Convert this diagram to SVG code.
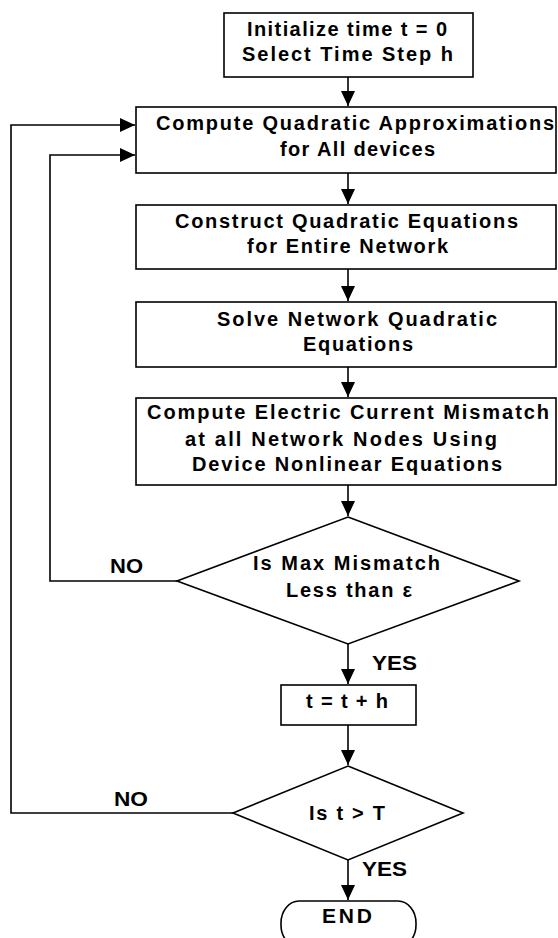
<svg xmlns="http://www.w3.org/2000/svg" width="558" height="938" viewBox="0 0 558 938">
  <style>
    .box { fill: #fff; stroke: #000; stroke-width: 1.6; }
    .lbl { font-family: "Liberation Sans", Arial, sans-serif; font-weight: bold; font-size: 20px; fill: #000; text-anchor: middle; }
    .wire { fill: none; stroke: #000; stroke-width: 1.6; }
  </style>
  <defs>
    <marker id="arrow" markerUnits="userSpaceOnUse" markerWidth="16" markerHeight="14" refX="15" refY="7" orient="auto">
      <path d="M0,0 L15,7 L0,14 z" fill="#000"/>
    </marker>
  </defs>
  <rect width="558" height="938" fill="#fff"/>

  <!-- connectors -->
  <g id="connectors">
    <path class="wire" d="M348,77 V106" marker-end="url(#arrow)"/>
    <path class="wire" d="M348,173 V204" marker-end="url(#arrow)"/>
    <path class="wire" d="M348,269 V301" marker-end="url(#arrow)"/>
    <path class="wire" d="M348,367 V397" marker-end="url(#arrow)"/>
    <path class="wire" d="M348,485 V516" marker-end="url(#arrow)"/>
    <path class="wire" d="M348,644 V684" marker-end="url(#arrow)"/>
    <path class="wire" d="M348,725 V765" marker-end="url(#arrow)"/>
    <path class="wire" d="M348,860 V900" marker-end="url(#arrow)"/>
    <!-- mismatch loop back -->
    <path class="wire" d="M177,581 H50 V155 H135" marker-end="url(#arrow)"/>
    <!-- time loop back -->
    <path class="wire" d="M233,813 H11 V125 H135" marker-end="url(#arrow)"/>
    <text class="lbl" x="126.5" y="573" textLength="33" lengthAdjust="spacingAndGlyphs">NO</text>
    <text class="lbl" x="394.5" y="670" textLength="45" lengthAdjust="spacingAndGlyphs">YES</text>
    <text class="lbl" x="131" y="806" textLength="34" lengthAdjust="spacingAndGlyphs">NO</text>
    <text class="lbl" x="384.5" y="876" textLength="45" lengthAdjust="spacingAndGlyphs">YES</text>
  </g>

  <g id="init">
    <rect class="box" x="224" y="13" width="249" height="64"/>
    <text class="lbl" x="347" y="36" textLength="200" lengthAdjust="spacing">Initialize time t = 0</text>
    <text class="lbl" x="347.5" y="61" textLength="211" lengthAdjust="spacing">Select Time Step h</text>
  </g>

  <g id="approx">
    <rect class="box" x="136" y="107" width="420" height="66"/>
    <text class="lbl" x="355" y="130" textLength="398" lengthAdjust="spacing">Compute Quadratic Approximations</text>
    <text class="lbl" x="357.5" y="156" textLength="155" lengthAdjust="spacing">for All devices</text>
  </g>

  <g id="construct">
    <rect class="box" x="136" y="205" width="420" height="64"/>
    <text class="lbl" x="346.5" y="228" textLength="343" lengthAdjust="spacing">Construct Quadratic Equations</text>
    <text class="lbl" x="347.5" y="253" textLength="201" lengthAdjust="spacing">for Entire Network</text>
  </g>

  <g id="solve">
    <rect class="box" x="136" y="302" width="420" height="65"/>
    <text class="lbl" x="357" y="326" textLength="280" lengthAdjust="spacing">Solve Network Quadratic</text>
    <text class="lbl" x="358" y="351" textLength="110" lengthAdjust="spacing">Equations</text>
  </g>

  <g id="mismatch">
    <rect class="box" x="136" y="398" width="420" height="87"/>
    <text class="lbl" x="348" y="419" textLength="402" lengthAdjust="spacing">Compute Electric Current Mismatch</text>
    <text class="lbl" x="341" y="446" textLength="312" lengthAdjust="spacing">at all Network Nodes Using</text>
    <text class="lbl" x="347" y="471" textLength="310" lengthAdjust="spacing">Device Nonlinear Equations</text>
  </g>

  <g id="check-mismatch">
    <polygon class="box" points="348,517 519,581 348,644 177,581"/>
    <text class="lbl" x="346.5" y="570" textLength="187" lengthAdjust="spacing">Is Max Mismatch</text>
    <text class="lbl" x="349" y="597" textLength="126" lengthAdjust="spacing">Less than ε</text>
  </g>

  <g id="step">
    <rect class="box" x="281" y="685" width="135" height="40"/>
    <text class="lbl" x="347" y="708" textLength="82" lengthAdjust="spacing">t = t + h</text>
  </g>

  <g id="check-time">
    <polygon class="box" points="348,766 463,813 348,860 233,813"/>
    <text class="lbl" x="347" y="820" textLength="76" lengthAdjust="spacing">Is t &gt; T</text>
  </g>

  <g id="end">
    <rect class="box" x="281" y="901" width="135" height="46" rx="18" ry="22"/>
    <text class="lbl" x="347" y="923" textLength="50" lengthAdjust="spacing" style="font-size:21px">END</text>
  </g>
</svg>
